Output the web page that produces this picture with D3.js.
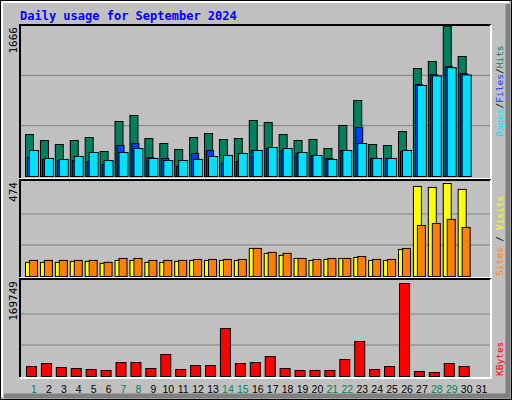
<!DOCTYPE html><html><head><script src="https://cdn.jsdelivr.net/npm/d3@7"></script>
<style>body{margin:0;background:#fff}</style></head><body><svg id="c" width="512" height="400"></svg>
<script>
const days = d3.range(1,32);
const weekendDays = [1,7,8,14,15,21,22,28,29];
const hits  = [463,397,353,397,430,276,607,673,419,364,298,430,474,408,419,618,596,463,397,408,309,563,838,353,342,496,1191,1269,1660,1324];
const files = [210,188,176,176,165,132,342,364,210,199,110,254,287,143,165,287,309,287,254,232,199,287,541,199,199,276,1015,1125,1213,1136];
const pages = [287,199,188,221,265,176,265,309,199,176,176,188,221,232,254,287,320,309,265,232,188,287,364,199,199,287,1005,1110,1200,1120];
const visits= [72,72,72,77,77,67,82,82,72,72,77,82,82,82,82,143,118,108,92,82,87,92,97,82,82,138,459,454,474,444];
const sites = [82,82,82,82,82,72,92,92,82,82,82,87,87,87,87,143,123,118,92,87,92,92,102,87,87,143,260,270,291,250];
const kbytes= [18250,23700,16400,14600,12800,11000,25500,25500,14600,40150,12800,20000,20000,87600,23700,25500,36500,14600,11000,11000,11000,31000,63900,12800,18250,169749,9100,7300,23700,18250];
const maxHits=1666, maxVisits=474, maxKB=169749;

const svg=d3.select("#c");
svg.append("rect").attr("x",0.5).attr("y",0.5).attr("width",511).attr("height",399).attr("fill","#c0c0c0").attr("stroke","#000");
svg.append("path").attr("d","M2,397V2H509").attr("stroke","#fff").attr("stroke-width",2).attr("fill","none");
svg.append("path").attr("d","M4,396H508V4").attr("stroke","#808080").attr("stroke-width",5).attr("fill","none");
svg.append("text").attr("x",20).attr("y",20).text("Daily usage for September 2024")
 .attr("font-family","DejaVu Sans Mono").attr("font-weight","bold").attr("font-size",12).attr("fill","#0000ff");

const x=d3.scaleBand().domain(days).range([20,482.5]).padding(0);
const L=20,R=491;
function panel(y0,y1,label){
  svg.append("rect").attr("x",L).attr("y",y0).attr("width",R-L).attr("height",y1-y0).attr("fill","#c0c0c0");
  svg.append("path").attr("d",`M${L},${y1}V${y0}H${R}`).attr("stroke","#000").attr("stroke-width",2).attr("fill","none");
  svg.append("path").attr("d",`M${L},${y1+1}H${R}V${y0}`).attr("stroke","#fff").attr("stroke-width",2).attr("fill","none");
  svg.append("text").attr("transform",`translate(17,${y0+2}) rotate(-90)`).attr("text-anchor","end")
   .attr("font-family","DejaVu Sans Mono").attr("font-size",11).text(label);
}
function grid(y,ticks){ticks.forEach(t=>svg.append("line").attr("x1",L+1).attr("x2",R-1).attr("y1",y(t)).attr("y2",y(t)).attr("stroke","#808080"));}
function bars(data,y,off,w,color){
  svg.append("g").selectAll("rect").data(data).join("rect")
   .attr("x",(d,i)=>x(i+1)+off+0.5).attr("width",w).attr("y",d=>y(d)+0.5).attr("height",d=>y(0)-y(d))
   .attr("fill",color).attr("stroke","#000");
}
function rlabel(yEnd,parts){
  const t=svg.append("text").attr("transform",`translate(503,${yEnd}) rotate(-90)`).attr("font-family","DejaVu Sans Mono").attr("font-size",9.5);
  parts.forEach(p=>t.append("tspan").attr("fill",p[1]).text(p[0]));
}
// top
panel(25,178,"1666");
const y1=d3.scaleLinear().domain([0,maxHits]).range([176,25]);
grid(y1,[maxHits/3,maxHits*2/3]);
bars(hits,y1,5,8,"#00805c");
bars(files,y1,7,7,"#0040ff");
bars(pages,y1,9,9,"#00e0ff");
rlabel(137,[["Pages","#00e0ff"],["/","#000"],["Files","#0040ff"],["/","#000"],["Hits","#00805c"]]);
// middle
panel(180,277,"474");
const y2=d3.scaleLinear().domain([0,maxVisits]).range([276,183]);
grid(y2,[maxVisits/3,maxVisits*2/3]);
bars(visits,y2,5,8,"#ffff00");
bars(sites,y2,9,8,"#ff8000");
rlabel(276,[["Sites","#ff8000"],[" / ","#000"],["Visits","#ffff00"]]);
// bottom
panel(279,377,"169749");
const y3=d3.scaleLinear().domain([0,maxKB]).range([376,283]);
grid(y3,[maxKB/3,maxKB*2/3]);
bars(kbytes,y3,6,10,"#ff0000");
rlabel(376,[["KBytes","#ff0000"]]);
// day labels
svg.append("g").selectAll("text").data(days).join("text")
 .attr("x",d=>x(d)+14).attr("y",393).attr("text-anchor","middle")
 .attr("font-family","Liberation Sans").attr("font-size",10.5)
 .attr("fill",d=>weekendDays.includes(d)?"#00805c":"#000").text(d=>d);
</script></body></html>
